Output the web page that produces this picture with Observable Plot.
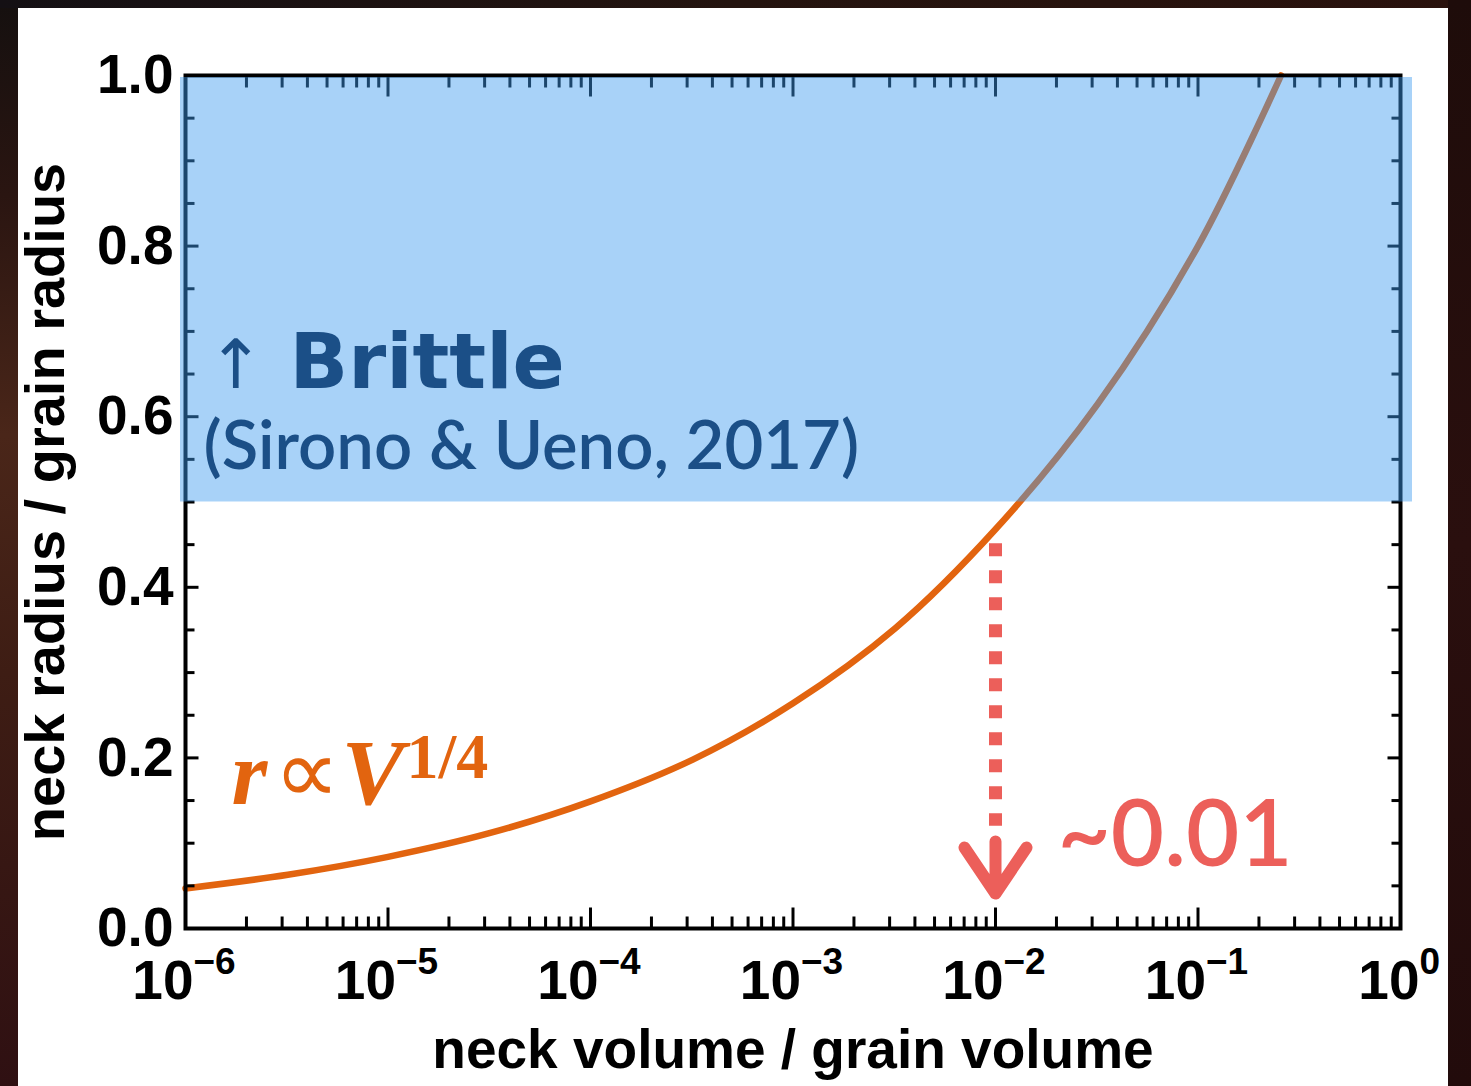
<!DOCTYPE html>
<html>
<head>
<meta charset="utf-8">
<script src="https://cdn.jsdelivr.net/npm/d3@7"></script>
<script src="https://cdn.jsdelivr.net/npm/@observablehq/plot@0.6"></script>
<style>
  html, body { margin: 0; padding: 0; }
  body {
    width: 1471px; height: 1086px; overflow: hidden; position: relative;
    background: linear-gradient(180deg, #15100f 0%, #2a1511 18%, #4a2619 40%, #3e1d14 62%, #2f1012 100%);
  }
  #rightEdge { position: absolute; left: 1448px; top: 0; width: 23px; height: 1086px;
    background: linear-gradient(180deg, #1e0c0a 0%, #2a0f0e 50%, #220b0b 100%); }
  #topEdge { position: absolute; left: 0; top: 0; width: 1471px; height: 8px;
    background: linear-gradient(90deg, #141014 0%, #24140f 50%, #2a120d 100%); }
  #card { position: absolute; left: 18px; top: 8px; width: 1430px; height: 1078px; background: #ffffff; }
  #chart { position: absolute; left: 0; top: 8px; }
  #chart svg { display: block; }
</style>
</head>
<body>
<div id="topEdge"></div>
<div id="rightEdge"></div>
<div id="card"></div>
<div id="chart"></div>
<script>
// Neck radius (in grain radii) against neck volume (in grain volumes)
const neckVolume = [1e-6, 3.2e-6, 1e-5, 3.2e-5, 1e-4, 3.2e-4, 1e-3, 3.2e-3, 1e-2, 3.2e-2, 0.1, 0.257];
const neckRadius = [0.047, 0.063, 0.084, 0.112, 0.149, 0.198, 0.264, 0.352, 0.468, 0.615, 0.80, 1.0];

// Brittle regime: neck radius above half the grain radius
const brittleRadius = [0.5, 1.0];
// Neck volume at which the brittle regime begins
const criticalVolume = 0.01;
const criticalLabel = "~0.01";

// Axis ticks
const xDecades = [1e-6, 1e-5, 1e-4, 1e-3, 1e-2, 1e-1, 1];
const xExponents = ["\u22126", "\u22125", "\u22124", "\u22123", "\u22122", "\u22121", "0"];
const xMinor = d3.range(-6, 0).flatMap(k => d3.range(2, 10).map(m => m * Math.pow(10, k)));
const yMajor = [0, 0.2, 0.4, 0.6, 0.8, 1.0];
const yMinor = d3.range(1, 20).map(i => i * 0.05).filter(v => Math.abs(v / 0.2 - Math.round(v / 0.2)) > 1e-6);

const xTitle = "neck volume / grain volume";
const yTitle = "neck radius / grain radius";

const curve = neckVolume.map((v, i) => ({volume: v, radius: neckRadius[i]}));

const sans = "'Liberation Sans', Arial, Helvetica, sans-serif";
const humanist = "Lato, 'Open Sans', sans-serif";
const serif = "'Liberation Serif', 'Times New Roman', serif";
const orange = "#e2640f";
const navy = "#1b4f87";
const coral = "#ec5f5a";

// straight tick segment drawn from the anchor along the vector direction
const tickShape = {draw(ctx, l) { ctx.moveTo(0, 0); ctx.lineTo(0, -l); }};
// open arrow with swept-back wings
const arrowShape = {draw(ctx, l) {
  ctx.moveTo(0, 0); ctx.lineTo(0, -l);
  ctx.moveTo(-31, 46 - l); ctx.lineTo(0, -l); ctx.lineTo(31, 46 - l);
}};

const tickStyle = {shape: tickShape, stroke: "#000", strokeWidth: 3, strokeLinecap: "butt", anchor: "start"};

const negDecades = xDecades.slice(0, -1);
const negExponents = xExponents.slice(0, -1);

const chart = Plot.plot({
  width: 1448,
  height: 1078,
  marginLeft: 185,
  marginRight: 48,
  marginTop: 67,
  marginBottom: 158,
  style: {background: "transparent", fontFamily: sans, color: "#000"},
  x: {type: "log", domain: [1e-6, 1], axis: null},
  y: {domain: [0, 1], axis: null},
  marks: [
    // the curve
    Plot.line(curve, {x: "volume", y: "radius", stroke: orange, strokeWidth: 6.5, curve: "catmull-rom"}),

    // inward ticks on all four sides
    Plot.vector(xDecades, {...tickStyle, x: d => d, y: () => 0, length: 21, rotate: 0}),
    Plot.vector(xMinor, {...tickStyle, x: d => d, y: () => 0, length: 12, rotate: 0}),
    Plot.vector(xDecades, {...tickStyle, x: d => d, y: () => 1, length: 21, rotate: 180}),
    Plot.vector(xMinor, {...tickStyle, x: d => d, y: () => 1, length: 12, rotate: 180}),
    Plot.vector(yMajor, {...tickStyle, y: d => d, x: () => 1e-6, length: 13, rotate: 90}),
    Plot.vector(yMinor, {...tickStyle, y: d => d, x: () => 1e-6, length: 9, rotate: 90}),
    Plot.vector(yMajor, {...tickStyle, y: d => d, x: () => 1, length: 13, rotate: -90}),
    Plot.vector(yMinor, {...tickStyle, y: d => d, x: () => 1, length: 9, rotate: -90}),

    Plot.frame({stroke: "#000", strokeWidth: 4}),

    // brittle regime shading, laid over the curve
    Plot.rect([brittleRadius], {
      x1: () => 1e-6, x2: () => 1, y1: d => d[0], y2: d => d[1],
      insetLeft: -5, insetRight: -12, insetTop: 2,
      fill: "rgb(62,155,239)", fillOpacity: 0.45
    }),
    Plot.text(["\u2191"], {frameAnchor: "top-left", dx: 22, dy: 312, lineAnchor: "bottom", textAnchor: "start",
      fontFamily: "'DejaVu Sans', sans-serif", fontSize: 68, fill: navy}),
    Plot.text(["Brittle"], {frameAnchor: "top-left", dx: 104, dy: 312, lineAnchor: "bottom", textAnchor: "start",
      fontFamily: "'DejaVu Sans', sans-serif", fontWeight: "bold", fontSize: 77, fill: navy}),
    Plot.text(["(Sirono & Ueno, 2017)"], {frameAnchor: "top-left", dx: 18, dy: 393, lineAnchor: "bottom", textAnchor: "start",
      fontFamily: humanist, fontWeight: 600, fontSize: 67, fill: navy}),

    // marker down to the critical neck volume
    Plot.ruleX([criticalVolume], {y1: 0.451, y2: 0.12, stroke: coral, strokeWidth: 13, strokeDasharray: "13,14"}),
    Plot.vector([criticalVolume], {x: d => d, y: () => 0.041, anchor: "end", rotate: 180, length: 52,
      shape: arrowShape, stroke: coral, strokeWidth: 12, strokeLinecap: "round", strokeLinejoin: "round"}),
    Plot.text([criticalLabel], {x: () => criticalVolume, y: () => 0, dx: 62, dy: -63, lineAnchor: "bottom", textAnchor: "start",
      fontFamily: humanist, fontWeight: 600, fontSize: 92, fill: coral}),

    // power-law annotation  r ∝ V^(1/4)
    Plot.text(["r"], {frameAnchor: "top-left", dx: 46, dy: 728, lineAnchor: "bottom", textAnchor: "start",
      fontFamily: serif, fontStyle: "italic", fontWeight: "bold", fontSize: 92, fill: orange}),
    Plot.text(["\u221d"], {frameAnchor: "top-left", dx: 88, dy: 727, lineAnchor: "bottom", textAnchor: "start",
      fontFamily: serif, fontSize: 92, fill: orange}),
    Plot.text(["V"], {frameAnchor: "top-left", dx: 156, dy: 728, lineAnchor: "bottom", textAnchor: "start",
      fontFamily: serif, fontStyle: "italic", fontWeight: "bold", fontSize: 94, fill: orange}),
    Plot.text(["1/4"], {frameAnchor: "top-left", dx: 221, dy: 702, lineAnchor: "bottom", textAnchor: "start",
      fontFamily: serif, fontWeight: "bold", fontSize: 64, fill: orange}),

    // tick labels
    Plot.text(yMajor, {y: d => d, frameAnchor: "left", dx: -12, textAnchor: "end", text: d => d.toFixed(1),
      fontSize: 55, fontWeight: "bold"}),
    Plot.text(negDecades, {x: d => d, frameAnchor: "bottom", dx: 8, dy: 70, lineAnchor: "bottom", textAnchor: "end",
      text: () => "10", fontSize: 55, fontWeight: "bold"}),
    Plot.text(negDecades, {x: d => d, frameAnchor: "bottom", dx: 8, dy: 45, lineAnchor: "bottom", textAnchor: "start",
      text: (d, i) => negExponents[i], fontSize: 37, fontWeight: "bold"}),
    Plot.text(xDecades.slice(-1), {x: d => d, frameAnchor: "bottom", dx: 19, dy: 70, lineAnchor: "bottom", textAnchor: "end",
      text: () => "10", fontSize: 55, fontWeight: "bold"}),
    Plot.text(xDecades.slice(-1), {x: d => d, frameAnchor: "bottom", dx: 19, dy: 45, lineAnchor: "bottom", textAnchor: "start",
      text: () => xExponents[xExponents.length - 1], fontSize: 37, fontWeight: "bold"}),

    // axis titles
    Plot.text([xTitle], {frameAnchor: "bottom", dy: 139, lineAnchor: "bottom", textAnchor: "middle",
      fontSize: 55, fontWeight: "bold"}),
    Plot.text([yTitle], {frameAnchor: "left", dx: -122, rotate: -90, lineAnchor: "bottom", textAnchor: "middle",
      fontSize: 56, fontWeight: "bold"})
  ]
});

document.getElementById("chart").appendChild(chart);
</script>
</body>
</html>
